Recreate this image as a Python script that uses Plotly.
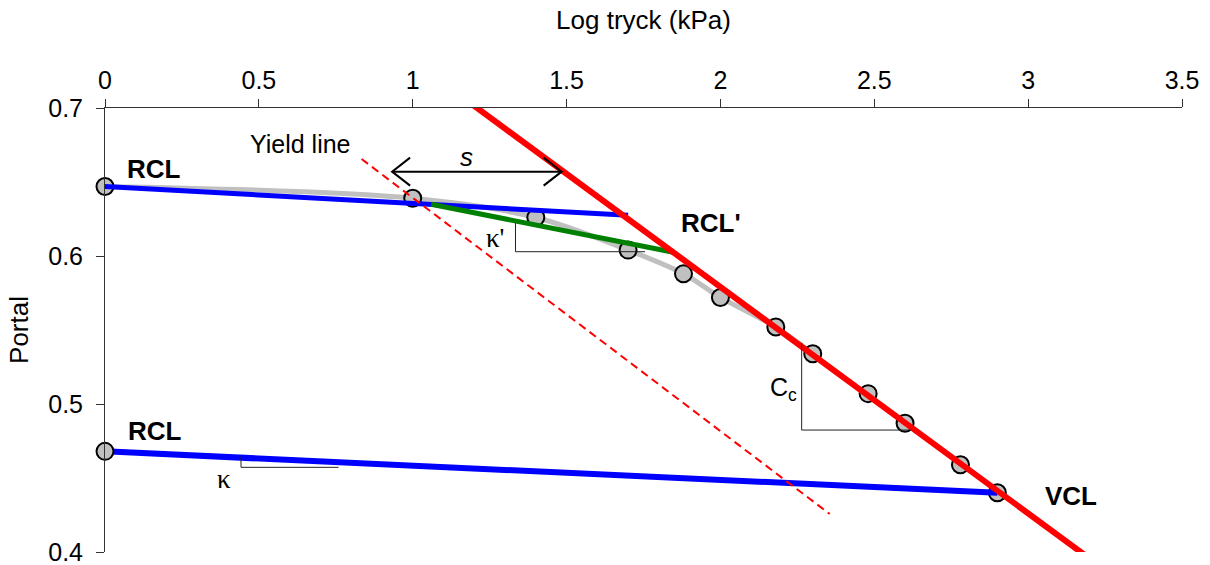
import plotly.graph_objects as go

# ---- data ----
curve_x = [0.0, 1.0, 1.4, 1.7, 1.88, 2.0, 2.18, 2.30, 2.48, 2.60, 2.78, 2.90]
curve_y = [0.647, 0.639, 0.626, 0.604, 0.588, 0.572, 0.552, 0.534, 0.507, 0.487, 0.459, 0.440]
n_smooth = 8  # grey fitted curve covers the first points only

unload_x = [0.0]
unload_y = [0.468]

rcl_upper_x = [0.0, 1.70]
rcl_upper_y = [0.647, 0.6275]

rcl_prime_x = [1.06, 1.843]
rcl_prime_y = [0.635, 0.6027]

rcl_lower_x = [0.0, 2.90]
rcl_lower_y = [0.468, 0.440]

vcl_x = [1.17, 3.21]
vcl_y = [0.706, 0.394]

yield_x = [0.834, 2.355]
yield_y = [0.6655, 0.4257]

# slope triangles: (x_left, x_right, y_top, y_bottom)
tri_kappa = (0.442, 0.759, 0.4644, 0.4572)
tri_kappa_p = (1.334, 1.755, 0.6223, 0.6029)
tri_cc = (2.264, 2.62, 0.5412, 0.4824)

s_arrow_x = [0.933, 1.484]
s_arrow_y = 0.657

x_ticks = [0, 0.5, 1, 1.5, 2, 2.5, 3, 3.5]
x_ticklabels = ["0", "0.5", "1", "1.5", "2", "2.5", "3", "3.5"]
y_ticks = [0.4, 0.5, 0.6, 0.7]
y_ticklabels = ["0.4", "0.5", "0.6", "0.7"]

labels = [
    ("RCL", 0.158, 0.659),
    ("RCL", 0.163, 0.482),
    ("RCL'", 1.97, 0.622),
    ("VCL", 3.14, 0.438),
]

FONT = "Liberation Sans, Arial, sans-serif"
SERIF = "Liberation Serif, Times New Roman, serif"

fig = go.Figure()

fig.add_trace(go.Scatter(x=curve_x[:n_smooth], y=curve_y[:n_smooth], mode="lines",
                         line=dict(color="#c0c0c0", width=5, shape="spline"),
                         hoverinfo="skip", showlegend=False))
fig.add_trace(go.Scatter(x=curve_x, y=curve_y, mode="markers",
                         marker=dict(size=17, color="#c0c0c0", line=dict(color="black", width=2)),
                         cliponaxis=False, showlegend=False))
fig.add_trace(go.Scatter(x=rcl_upper_x, y=rcl_upper_y, mode="lines",
                         line=dict(color="#0000ff", width=5), showlegend=False))
fig.add_trace(go.Scatter(x=rcl_prime_x, y=rcl_prime_y, mode="lines",
                         line=dict(color="#008000", width=5), showlegend=False))
fig.add_trace(go.Scatter(x=rcl_lower_x, y=rcl_lower_y, mode="lines",
                         line=dict(color="#0000ff", width=6), showlegend=False))
fig.add_trace(go.Scatter(x=yield_x, y=yield_y, mode="lines",
                         line=dict(color="#ff0000", width=2, dash="8px,5px"), showlegend=False))
fig.add_trace(go.Scatter(x=vcl_x, y=vcl_y, mode="lines",
                         line=dict(color="#ff0000", width=6), showlegend=False))
fig.add_trace(go.Scatter(x=unload_x, y=unload_y, mode="markers",
                         marker=dict(size=17, color="#c0c0c0", line=dict(color="black", width=2)),
                         cliponaxis=False, showlegend=False))

shapes = []
for (xl, xr, yt, yb) in (tri_kappa, tri_kappa_p, tri_cc):
    shapes.append(dict(type="line", x0=xl, x1=xl, y0=yt, y1=yb, xref="x", yref="y",
                       line=dict(color="#222", width=1)))
    shapes.append(dict(type="line", x0=xl, x1=xr, y0=yb, y1=yb, xref="x", yref="y",
                       line=dict(color="#222", width=1)))
# s arrow
shapes.append(dict(type="line", x0=s_arrow_x[0], x1=s_arrow_x[1], y0=s_arrow_y, y1=s_arrow_y,
                   xref="x", yref="y", line=dict(color="black", width=2)))
shapes.append(dict(type="path", xref="x", yref="y", xsizemode="pixel", ysizemode="pixel",
                   xanchor=s_arrow_x[0], yanchor=s_arrow_y, path="M 18,14 L 0,0 L 18,-14",
                   line=dict(color="black", width=2)))
shapes.append(dict(type="path", xref="x", yref="y", xsizemode="pixel", ysizemode="pixel",
                   xanchor=s_arrow_x[1], yanchor=s_arrow_y, path="M -18,14 L 0,0 L -18,-14",
                   line=dict(color="black", width=2)))

annotations = []
for (t, x, y) in labels:
    annotations.append(dict(x=x, y=y, xref="x", yref="y", text=f"<b>{t}</b>", showarrow=False,
                            font=dict(family=FONT, size=26, color="black")))
annotations += [
    dict(x=0.634, y=0.676, text="Yield line", showarrow=False,
         font=dict(family=FONT, size=25, color="black")),
    dict(x=1.176, y=0.667, text="<i>s</i>", showarrow=False,
         font=dict(family=FONT, size=26, color="black")),
    dict(x=1.268, y=0.612, text="κ'", showarrow=False,
         font=dict(family=SERIF, size=27, color="black")),
    dict(x=0.387, y=0.449, text="κ", showarrow=False,
         font=dict(family=SERIF, size=27, color="black")),
    dict(x=2.205, y=0.510, text="C<sub>c</sub>", showarrow=False,
         font=dict(family=FONT, size=25, color="black")),
]

fig.update_layout(
    width=1210, height=565,
    margin=dict(l=105, r=28, t=108, b=13),
    paper_bgcolor="white", plot_bgcolor="white",
    font=dict(family=FONT, size=25, color="black"),
    shapes=shapes, annotations=annotations,
    xaxis=dict(side="top", range=[0, 3.5], tickvals=x_ticks, ticktext=x_ticklabels,
               showgrid=False, zeroline=False, showline=True, linecolor="#333", linewidth=1,
               ticks="outside", ticklen=8, tickcolor="#333", tickfont=dict(size=25),
               ticklabeloverflow="allow", automargin=False,
               title=dict(text="Log tryck (kPa)", font=dict(size=26), standoff=28)),
    yaxis=dict(range=[0.4, 0.7], tickvals=y_ticks, ticktext=y_ticklabels,
               showgrid=False, zeroline=False, showline=True, linecolor="#333", linewidth=1,
               ticks="outside", ticklen=8, tickcolor="#333", tickfont=dict(size=25),
               ticklabelstandoff=8, ticklabeloverflow="allow", automargin=False,
               title=dict(text="Portal", font=dict(size=26), standoff=12)),
)

fig.write_html("out.html")
